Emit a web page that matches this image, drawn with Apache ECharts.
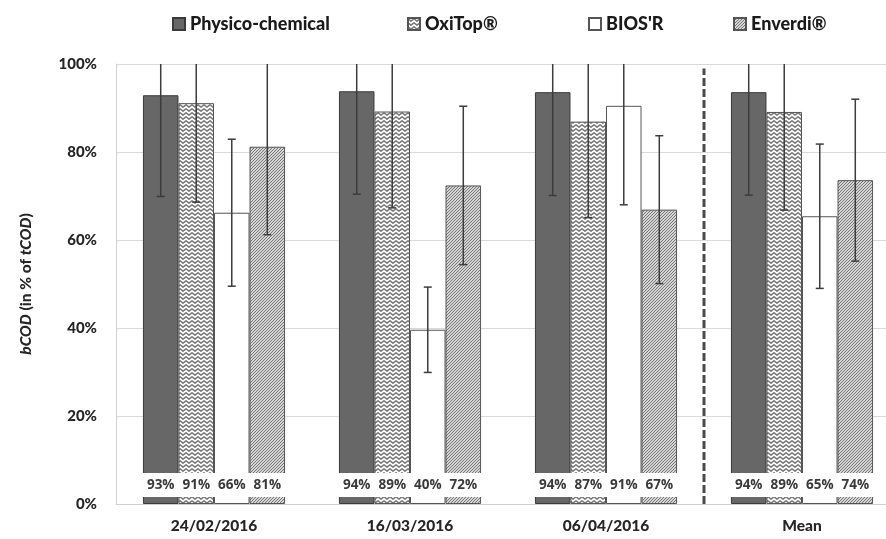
<!DOCTYPE html>
<html>
<head>
<meta charset="utf-8">
<script src="https://cdn.jsdelivr.net/npm/echarts@6/dist/echarts.min.js"></script>
<style>html,body{margin:0;padding:0;background:#fff;overflow:hidden}#c{width:900px;height:539px}</style>
</head>
<body>
<div id="c"></div>
<script>
const categories = ['24/02/2016', '16/03/2016', '06/04/2016', 'Mean'];
const seriesNames = ['Physico-chemical', 'OxiTop®', "BIOS'R", 'Enverdi®'];
const physico = [92.9, 93.8, 93.6, 93.6];
const oxitop = [91.1, 89.2, 86.9, 89.1];
const biosr = [66.2, 39.6, 90.5, 65.4];
const enverdi = [81.2, 72.4, 66.9, 73.6];
const physicoErr = [23.0, 23.4, 23.5, 23.4];
const oxitopErr = [22.5, 21.9, 21.8, 22.3];
const biosrErr = [16.7, 9.7, 22.5, 16.4];
const enverdiErr = [20.0, 18.0, 16.8, 18.4];
const yMin = 0, yMax = 100, yStep = 20;
const separatorAt = [3];

function wavePattern() {
  const c = document.createElement('canvas');
  c.width = 6; c.height = 4;
  const g = c.getContext('2d');
  g.fillStyle = '#fff'; g.fillRect(0, 0, 6, 4);
  g.strokeStyle = '#7a7a7a'; g.lineWidth = 1.5;
  g.beginPath();
  g.moveTo(-3, 3.2); g.lineTo(0, 0.8); g.lineTo(3, 3.2); g.lineTo(6, 0.8); g.lineTo(9, 3.2);
  g.stroke();
  return c;
}
function hatchPattern() {
  const c = document.createElement('canvas');
  c.width = 3; c.height = 3;
  const g = c.getContext('2d');
  g.fillStyle = '#fff'; g.fillRect(0, 0, 3, 3);
  g.strokeStyle = '#707070'; g.lineWidth = 1.1;
  g.beginPath();
  g.moveTo(-1, 4); g.lineTo(4, -1);
  g.moveTo(-1, 1); g.lineTo(1, -1);
  g.moveTo(2, 4); g.lineTo(4, 2);
  g.stroke();
  return c;
}

const fills = [
  '#676767',
  { image: wavePattern(), repeat: 'repeat' },
  '#ffffff',
  { image: hatchPattern(), repeat: 'repeat' }
];
const borders = ['#3a3a3a', '#555555', '#555555', '#555555'];
const values = [physico, oxitop, biosr, enverdi];
const errs = [physicoErr, oxitopErr, biosrErr, enverdiErr];
const gapRatio = 0.275;

const chart = echarts.init(document.getElementById('c'), null, { renderer: 'canvas' });
const font = 'Lato, "Open Sans", sans-serif';

const series = [];
values.forEach((vals, i) => {
  series.push({
    name: seriesNames[i],
    type: 'bar',
    xAxisIndex: 0, yAxisIndex: 0,
    barGap: '0%',
    barCategoryGap: (gapRatio * 100) + '%',
    data: vals,
    itemStyle: { color: fills[i], borderColor: borders[i], borderWidth: 1 },
    label: {
      show: true,
      position: 'insideBottom',
      distance: 7,
      formatter: p => Math.round(p.value) + '%',
      fontFamily: '"Open Sans", Lato, sans-serif', fontWeight: 'bold', fontSize: 13.5, color: '#3a3a3a',
      textBorderWidth: 0,
      backgroundColor: '#ffffff',
      width: 37, align: 'center',
      lineHeight: 16,
      padding: [4, 0, 4, 0]
    },
    emphasis: { disabled: true },
    z: 2
  });
});
values.forEach((vals, i) => {
  series.push({
    name: seriesNames[i] + ' err',
    type: 'custom',
    xAxisIndex: 0, yAxisIndex: 0,
    z: 5,
    silent: true,
    data: vals.map((v, k) => [k, v, errs[i][k]]),
    renderItem: function (params, api) {
      const k = api.value(0), v = api.value(1), e = api.value(2);
      const band = api.size([1, 0])[0];
      const bw = band * (1 - gapRatio) / 4;
      const off = (i - 1.5) * bw;
      const lo = Math.max(v - e, yMin), hi = Math.min(v + e, yMax);
      const pLo = api.coord([k, lo]), pHi = api.coord([k, hi]);
      const x = pLo[0] + off;
      const st = { stroke: '#3c3c3c', lineWidth: 1.5 };
      const kids = [
        { type: 'line', shape: { x1: x, y1: pLo[1], x2: x, y2: pHi[1] }, style: st },
        { type: 'line', shape: { x1: x - 4, y1: pLo[1], x2: x + 4, y2: pLo[1] }, style: st }
      ];
      if (v + e <= yMax) kids.push({ type: 'line', shape: { x1: x - 4, y1: pHi[1], x2: x + 4, y2: pHi[1] }, style: st });
      return { type: 'group', children: kids };
    }
  });
});
series.push({
  type: 'line',
  xAxisIndex: 1, yAxisIndex: 0,
  data: [[separatorAt[0], yMin], [separatorAt[0], 99]],
  symbol: 'none',
  silent: true,
  lineStyle: { color: '#4a4a4a', width: 3, type: [8, 3] },
  z: 4
});

const legendLefts = [167, 402, 583, 728];
const legends = seriesNames.map((n, i) => ({
  data: [n],
  left: legendLefts[i],
  top: 10,
  icon: 'rect',
  itemWidth: 12, itemHeight: 12,
  itemGap: 0,
  selectedMode: false,
  textStyle: { fontFamily: font, fontWeight: 900, fontSize: 18, color: '#1a1a1a' }
}));

chart.setOption({
  animation: false,
  backgroundColor: '#ffffff',
  legend: legends,
  grid: { left: 116, top: 64, height: 440, width: 784, containLabel: false },
  xAxis: [{
    type: 'category',
    data: categories,
    axisLine: { show: true, lineStyle: { color: '#d0d0d0', width: 1 } },
    axisTick: { show: false },
    axisLabel: { fontFamily: font, fontWeight: 900, fontSize: 15.5, color: '#262626', margin: 14 }
  }, {
    type: 'value', min: 0, max: 4, show: false
  }],
  yAxis: {
    type: 'value',
    min: yMin, max: yMax, interval: yStep,
    name: '{i|bCOD} (in % of {i|tCOD})',
    nameLocation: 'middle',
    nameGap: 82,
    nameTextStyle: {
      fontFamily: font, fontWeight: 900, fontSize: 15.5, color: '#262626',
      padding: [0, 0, 0, 0],
      rich: { i: { fontFamily: font, fontWeight: 900, fontStyle: 'italic', fontSize: 15.5, color: '#262626' } }
    },
    axisLine: { show: true, lineStyle: { color: '#d0d0d0', width: 1 } },
    axisTick: { show: false },
    splitLine: { lineStyle: { color: '#d9d9d9', width: 1 } },
    axisLabel: { formatter: '{value}%', fontFamily: font, fontWeight: 900, fontSize: 15, color: '#262626', margin: 19 }
  },
  series: series
});
</script>
</body>
</html>
